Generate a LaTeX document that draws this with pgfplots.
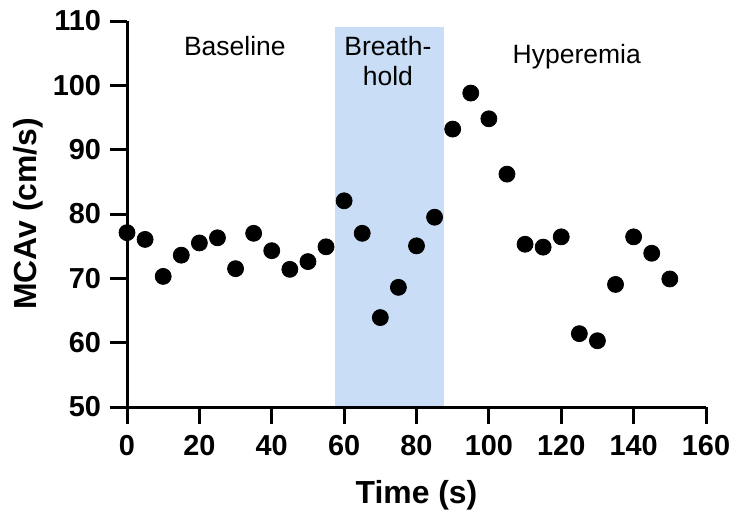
\documentclass[border=0pt]{standalone}
\usepackage{fontspec}
\setmainfont{Liberation Sans}
\usepackage{pgfplots}
\pgfplotsset{compat=1.18}
\definecolor{holdblue}{HTML}{C9DDF6}

\begin{document}
\begin{tikzpicture}
\begin{axis}[
    scale only axis,
    width=289.5bp, height=193bp,
    xmin=0, xmax=160, ymin=50, ymax=110,
    axis x line*=bottom, axis y line*=left,
    axis line style={line width=1.5bp, -},
    axis on top,
    clip=false,
    xtick={0,20,...,160}, ytick={50,60,...,110},
    tick style={line width=1.5bp, black},
    tick align=outside,
    major tick length=8.5bp,
    /pgf/number format/assume math mode=true,
    tick label style={font=\bfseries\fontsize{14.5}{14.5}\selectfont},
    xticklabel style={yshift=-2bp},
    yticklabel style={xshift=-1bp},
    xlabel={Time (s)},
    ylabel={MCAv (cm/s)},
    label style={font=\bfseries\fontsize{16}{16}\selectfont},
    xlabel style={at={(axis description cs:0.5,0)}, anchor=center, yshift=-44bp},
    ylabel style={at={([xshift=-49.5bp]axis description cs:0,0.5)}, anchor=center},
]
\coordinate (o) at (rel axis cs:0,0);
\addplot[fill=holdblue, draw=none] coordinates {(57.5,50) (57.5,109) (87.5,109) (87.5,50)} -- cycle;
\addplot[only marks, mark=*, mark size=4bp, black] coordinates {
(0,77.1) (5,76.05) (10,70.3) (15,73.6) (20,75.5) (25,76.3) (30,71.5)
(35,77.0) (40,74.3) (45,71.4) (50,72.6) (55,74.9) (60,82.05) (65,77.0)
(70,63.9) (75,68.6) (80,75.05) (85,79.5) (90,93.2) (95,98.8) (100,94.8)
(105,86.2) (110,75.3) (115,74.85) (120,76.45) (125,61.4) (130,60.3)
(135,69.05) (140,76.45) (145,73.9) (150,69.9)
};
\node[anchor=base, font=\fontsize{13.3}{13.3}\selectfont] at (axis cs:29.8,104.7) {Baseline};
\node[anchor=base, font=\fontsize{13.3}{13.3}\selectfont] at (axis cs:72.1,104.7) {Breath-};
\node[anchor=base, font=\fontsize{13.3}{13.3}\selectfont] at (axis cs:72.1,100.05) {hold};
\node[anchor=base, font=\fontsize{13.3}{13.3}\selectfont] at (axis cs:124.3,103.47) {Hyperemia};
\end{axis}
\pgfresetboundingbox
\path[use as bounding box] (o) ++(-63.5bp,-52.5bp) rectangle ++(365bp,256bp);
\end{tikzpicture}
\end{document}
